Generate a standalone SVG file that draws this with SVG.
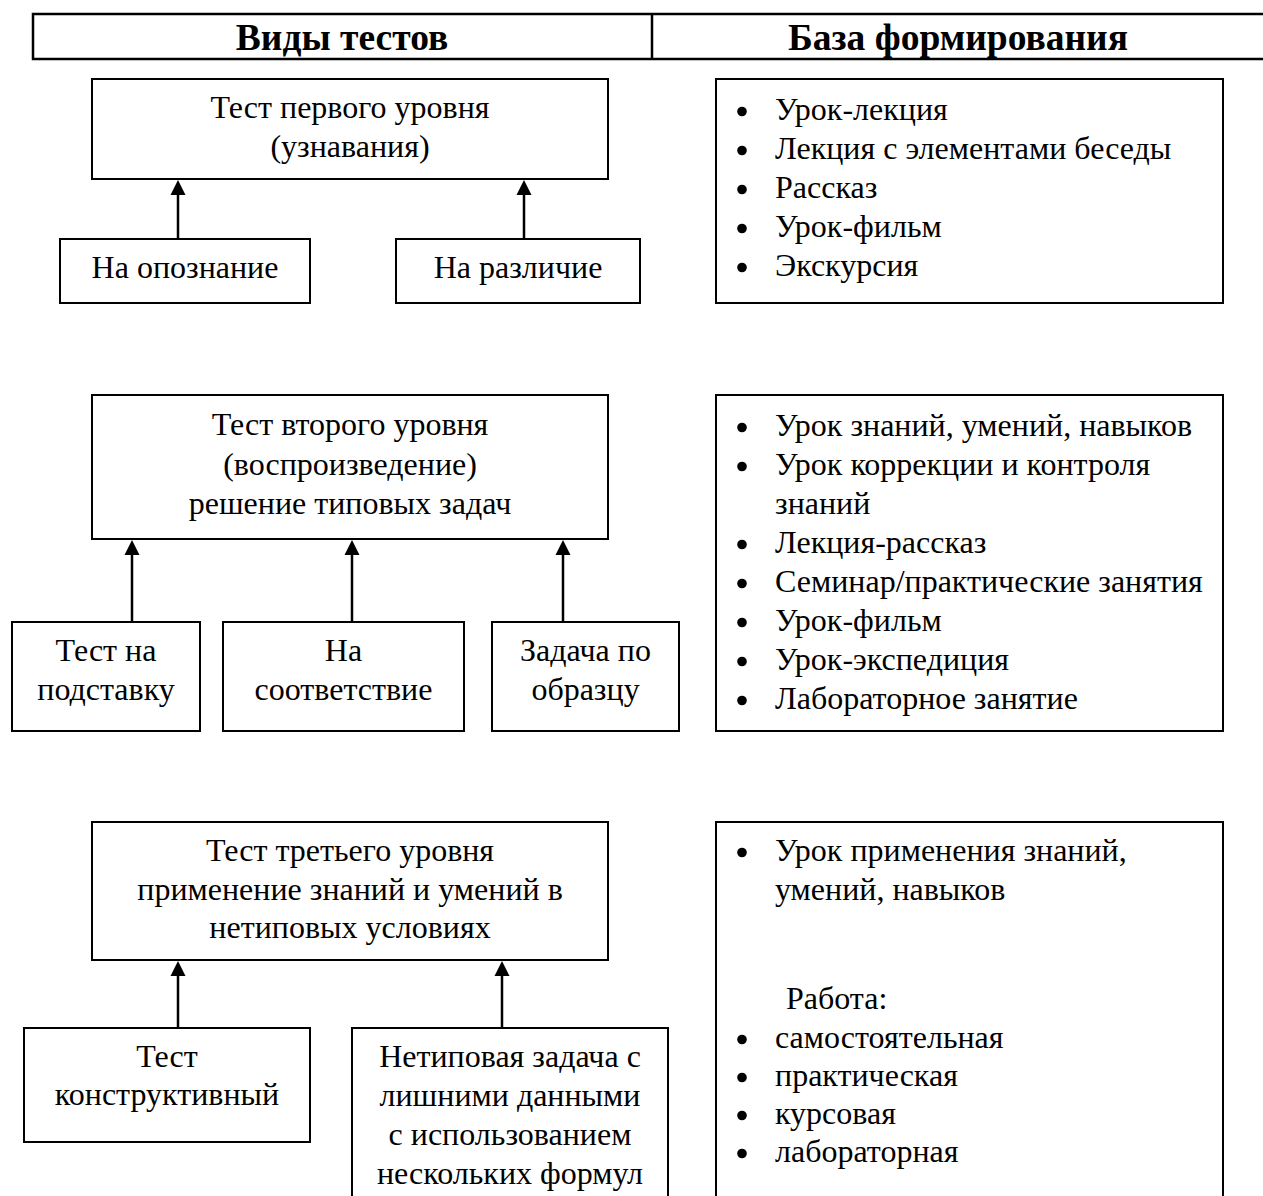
<svg xmlns="http://www.w3.org/2000/svg" width="1263" height="1196" viewBox="0 0 1263 1196">
<style>
.box{fill:#fff;stroke:#000;stroke-width:2}
.hdr{fill:none;stroke:#000;stroke-width:2.5}
.t{font-family:"Liberation Serif","Times New Roman",serif;font-size:32px;fill:#000}
.c{text-anchor:middle}
.h{font-family:"Liberation Serif","Times New Roman",serif;font-size:37.5px;font-weight:bold;text-anchor:middle;fill:#000}
.con{stroke:#000;stroke-width:2.5;fill:none;marker-end:url(#ah)}
.b{fill:#000}
</style>
<defs>
<marker id="ah" markerUnits="userSpaceOnUse" markerWidth="16" markerHeight="16" refX="0" refY="7.5" orient="auto" overflow="visible">
<path d="M0,0 L15,7.5 L0,15 Z" fill="#000"/>
</marker>
</defs>
<rect width="1263" height="1196" fill="#fff"/>

<g id="header">
<path class="hdr" d="M1265,14 H33 V59 H1265 M652,14 V59"/>
<text class="h" x="342" y="50">Виды тестов</text>
<text class="h" x="958" y="50">База формирования</text>
</g>

<g id="connectors">
<path class="con" d="M178,239 V195"/>
<path class="con" d="M524,239 V195"/>
<path class="con" d="M132,622 V555"/>
<path class="con" d="M352,622 V555"/>
<path class="con" d="M563,622 V555"/>
<path class="con" d="M178,1028 V976"/>
<path class="con" d="M502,1028 V976"/>
</g>

<g id="level1">
<rect class="box" x="92" y="79" width="516" height="100"/>
<text class="t c" x="350" y="118">Тест первого уровня</text>
<text class="t c" x="350" y="157">(узнавания)</text>
</g>
<g id="level1-recognition">
<rect class="box" x="60" y="239" width="250" height="64"/>
<text class="t c" x="185" y="278">На опознание</text>
</g>
<g id="level1-difference">
<rect class="box" x="396" y="239" width="244" height="64"/>
<text class="t c" x="518" y="278">На различие</text>
</g>
<g id="base1">
<rect class="box" x="716" y="79" width="507" height="224"/>
<circle class="b" cx="742" cy="111.5" r="4.8"/><text class="t" x="775" y="120">Урок-лекция</text>
<circle class="b" cx="742" cy="150.5" r="4.8"/><text class="t" x="775" y="159">Лекция с элементами беседы</text>
<circle class="b" cx="742" cy="189.5" r="4.8"/><text class="t" x="775" y="198">Рассказ</text>
<circle class="b" cx="742" cy="228.5" r="4.8"/><text class="t" x="775" y="237">Урок-фильм</text>
<circle class="b" cx="742" cy="267.5" r="4.8"/><text class="t" x="775" y="276">Экскурсия</text>
</g>

<g id="level2">
<rect class="box" x="92" y="395" width="516" height="144"/>
<text class="t c" x="350" y="435">Тест второго уровня</text>
<text class="t c" x="350" y="474.5">(воспроизведение)</text>
<text class="t c" x="350" y="514">решение типовых задач</text>
</g>
<g id="level2-substitution">
<rect class="box" x="12" y="622" width="188" height="109"/>
<text class="t c" x="106" y="661">Тест на</text>
<text class="t c" x="106" y="700">подставку</text>
</g>
<g id="level2-matching">
<rect class="box" x="223" y="622" width="241" height="109"/>
<text class="t c" x="343.5" y="661">На</text>
<text class="t c" x="343.5" y="700">соответствие</text>
</g>
<g id="level2-sample">
<rect class="box" x="492" y="622" width="187" height="109"/>
<text class="t c" x="585.5" y="661">Задача по</text>
<text class="t c" x="585.5" y="700">образцу</text>
</g>
<g id="base2">
<rect class="box" x="716" y="395" width="507" height="336"/>
<circle class="b" cx="742" cy="427.5" r="4.8"/><text class="t" x="775" y="436">Урок знаний, умений, навыков</text>
<circle class="b" cx="742" cy="466.5" r="4.8"/><text class="t" x="775" y="475">Урок коррекции и контроля</text>
<text class="t" x="775" y="514">знаний</text>
<circle class="b" cx="742" cy="544.5" r="4.8"/><text class="t" x="775" y="553">Лекция-рассказ</text>
<circle class="b" cx="742" cy="583.5" r="4.8"/><text class="t" x="775" y="592">Семинар/практические занятия</text>
<circle class="b" cx="742" cy="622.5" r="4.8"/><text class="t" x="775" y="631">Урок-фильм</text>
<circle class="b" cx="742" cy="661.5" r="4.8"/><text class="t" x="775" y="670">Урок-экспедиция</text>
<circle class="b" cx="742" cy="700.5" r="4.8"/><text class="t" x="775" y="709">Лабораторное занятие</text>
</g>

<g id="level3">
<rect class="box" x="92" y="822" width="516" height="138"/>
<text class="t c" x="350" y="861">Тест третьего уровня</text>
<text class="t c" x="350" y="899.5">применение знаний и умений в</text>
<text class="t c" x="350" y="938">нетиповых условиях</text>
</g>
<g id="level3-constructive">
<rect class="box" x="24" y="1028" width="286" height="114"/>
<text class="t c" x="167" y="1067">Тест</text>
<text class="t c" x="167" y="1105">конструктивный</text>
</g>
<g id="level3-nonstandard">
<rect class="box" x="352" y="1028" width="316" height="180"/>
<text class="t c" x="510" y="1067">Нетиповая задача с</text>
<text class="t c" x="510" y="1106">лишними данными</text>
<text class="t c" x="510" y="1145">с использованием</text>
<text class="t c" x="510" y="1184">нескольких формул</text>
</g>
<g id="base3">
<rect class="box" x="716" y="822" width="507" height="386"/>
<circle class="b" cx="742" cy="852.5" r="4.8"/><text class="t" x="775" y="861">Урок применения знаний,</text>
<text class="t" x="775" y="900">умений, навыков</text>
<text class="t" x="786" y="1009">Работа:</text>
<circle class="b" cx="742" cy="1039.5" r="4.8"/><text class="t" x="775" y="1048">самостоятельная</text>
<circle class="b" cx="742" cy="1077.5" r="4.8"/><text class="t" x="775" y="1086">практическая</text>
<circle class="b" cx="742" cy="1115.5" r="4.8"/><text class="t" x="775" y="1124">курсовая</text>
<circle class="b" cx="742" cy="1153.5" r="4.8"/><text class="t" x="775" y="1162">лабораторная</text>
</g>
</svg>
